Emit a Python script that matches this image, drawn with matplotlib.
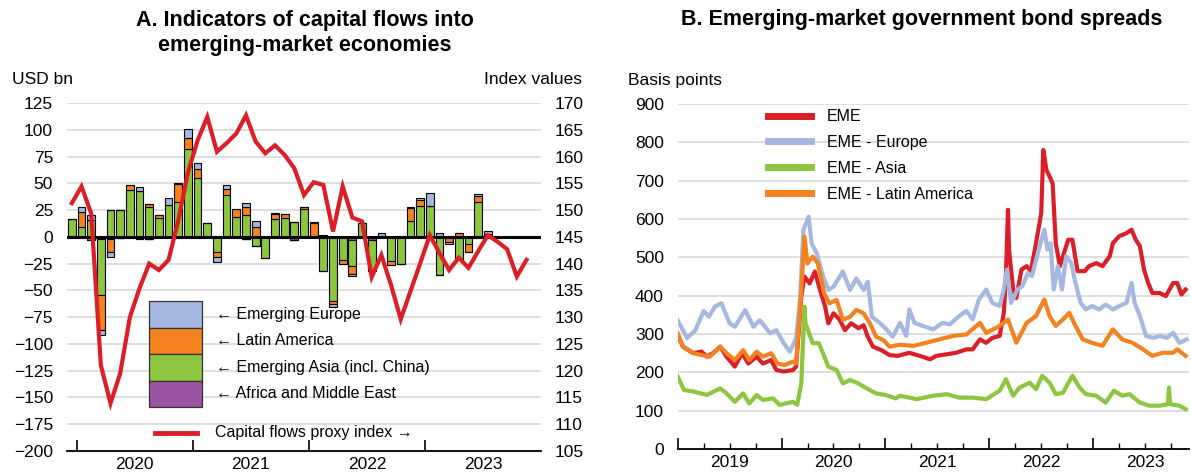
import matplotlib
matplotlib.use("Agg")
import matplotlib.pyplot as plt
import numpy as np
import pandas as pd
from matplotlib.patches import Rectangle
from matplotlib.ticker import FixedLocator, FixedFormatter, NullFormatter

plt.rcParams["font.family"] = ["Liberation Sans", "DejaVu Sans"]

RED = "#dc1f26"
BLUE = "#a5b8e1"
GREEN = "#8cc63f"
ORANGE = "#f58220"
PURPLE = "#9c55a3"
GRID = "#d9d9d9"

# ---- panel A: monthly flows by region, USD bn (Dec 2019 - Jul 2023)
flow_months = pd.period_range("2019-12", "2023-07", freq="M")
africa_me = [0, 0, -1, -2, -2, -1, 0, 0, -2, 0, 0, 0, 0, 0, 0, 0, 0, 0, -2, 0, 0, 0,
             0, -3, 0, 0, 0, 0, 0, -3, 0, -3, 0, 0, 0, 0, 0, 0, 0, -1.5, 0, 0, 0, 0]
asia = [17, 9.5, 16, -52, 25, 25, 44, 42.5, 28, 18, 30, 33, 82.5, 54.5, 12.5, -14.5,
        39, 19, 20, -8.5, -19.5, 17, 18, 14, 26, 0.5, -32, -60, -22, -24, 12.5, -29,
        1, -23, -25, 15, 29, 29, -36, 0, -21, -7, 33, 1]
latam = [0, 14, -2, -33, -12.5, 0, 4.5, -2, 3, 2, 0, 16.5, 10, 9, 0, -4, 5.5, 7, 7.5,
         9, 0, 4.5, 3, 0, 2, 12.5, 0, -3, -3, -7.5, 0, 0, 0, -3, 0, 11.5, 5, 0, 1, -3,
         3.5, -7, 5, 2]
europe = [0, 4.5, 4, -5, -4.5, 0, -1.5, 4, 0, 0, 6, 1, 8, 5, 0, -5, 4, 0, 4, 5.5, 0, 1,
          -1.5, 0, 0, 1, 1.5, -2.5, 0, -2.5, 0, 0, 3, 0, 1, 1, 2, 11.5, 3, -2.5, 0, 0, 2, 2]

# capital flows proxy index (Dec 2019 - Nov 2023)
index_months = pd.period_range("2019-12", "2023-11", freq="M")
proxy_index = [151.3, 154.4, 149.4, 121, 113.9, 119.5, 130, 135.4, 140, 138.8, 140.7, 148,
               157, 163, 167.4, 160.9, 162.5, 164.3, 167.7, 162.8, 160.6, 162.1, 160.3, 157.8,
               152.8, 155.2, 154.7, 146, 154.4, 148.6, 147.9, 137.5, 141.6, 136, 129.6, 134.8,
               140, 145.3, 142, 138.8, 141.1, 139.2, 142.3, 145.3, 144.1, 142.7, 137.6, 140.7]

# ---- panel B: spreads, basis points (time in fractional years)
eme_t = [2019.00, 2019.05, 2019.15, 2019.23, 2019.28, 2019.34, 2019.41, 2019.47, 2019.55,
         2019.62, 2019.68, 2019.76, 2019.82, 2019.90, 2019.95, 2020.02, 2020.11, 2020.14,
         2020.19, 2020.22, 2020.27, 2020.32, 2020.37, 2020.42, 2020.45, 2020.50, 2020.56,
         2020.61, 2020.67, 2020.74, 2020.79, 2020.83, 2020.88, 2020.96, 2021.04, 2021.12,
         2021.23, 2021.33, 2021.43, 2021.49, 2021.59, 2021.68, 2021.78, 2021.84, 2021.91,
         2021.97, 2022.03, 2022.10, 2022.14, 2022.16, 2022.18, 2022.19, 2022.23, 2022.26,
         2022.31, 2022.36, 2022.40, 2022.45, 2022.50, 2022.52, 2022.55, 2022.58, 2022.61,
         2022.64, 2022.68, 2022.71, 2022.76, 2022.80, 2022.85, 2022.92, 2022.96, 2023.03,
         2023.09, 2023.16, 2023.19, 2023.25, 2023.32, 2023.37, 2023.41, 2023.45, 2023.49,
         2023.53, 2023.57, 2023.64, 2023.70, 2023.77, 2023.81, 2023.85, 2023.89]
eme_v = [297, 267, 250, 254, 241, 250, 267, 241, 215, 250, 223, 241, 223, 232, 206, 202,
         206, 215, 397, 450, 432, 463, 415, 371, 328, 354, 337, 310, 328, 315, 323, 293,
         267, 258, 245, 243, 251, 243, 234, 243, 247, 251, 260, 260, 286, 277, 290, 295,
         355, 451, 624, 520, 416, 394, 468, 477, 464, 537, 615, 780, 728, 711, 693, 537,
         477, 503, 546, 546, 464, 464, 477, 485, 477, 503, 537, 555, 563, 572, 546, 529,
         468, 433, 407, 407, 399, 433, 433, 403, 416]

europe_t = [2019.00, 2019.09, 2019.17, 2019.25, 2019.30, 2019.36, 2019.42, 2019.50, 2019.55,
            2019.65, 2019.73, 2019.79, 2019.89, 2019.95, 2020.02, 2020.08, 2020.14, 2020.18,
            2020.21, 2020.26, 2020.29, 2020.34, 2020.40, 2020.45, 2020.50, 2020.59, 2020.66,
            2020.72, 2020.79, 2020.83, 2020.87, 2020.95, 2021.00, 2021.07, 2021.14, 2021.20,
            2021.23, 2021.28, 2021.36, 2021.46, 2021.55, 2021.62, 2021.71, 2021.78, 2021.84,
            2021.90, 2021.97, 2022.03, 2022.10, 2022.14, 2022.17, 2022.21, 2022.27, 2022.32,
            2022.37, 2022.41, 2022.48, 2022.53, 2022.56, 2022.59, 2022.62, 2022.66, 2022.70,
            2022.74, 2022.79, 2022.83, 2022.88, 2022.93, 2022.99, 2023.06, 2023.12, 2023.19,
            2023.25, 2023.32, 2023.37, 2023.40, 2023.45, 2023.51, 2023.58, 2023.64, 2023.71,
            2023.77, 2023.83, 2023.90]
europe_v = [336, 289, 310, 360, 345, 372, 380, 328, 319, 362, 319, 336, 302, 310, 276, 254,
            289, 397, 571, 606, 536, 510, 450, 415, 423, 463, 415, 445, 415, 436, 345, 328,
            315, 293, 329, 295, 364, 329, 321, 312, 329, 325, 347, 360, 338, 390, 416, 381,
            373, 416, 468, 381, 416, 425, 459, 451, 524, 572, 520, 537, 416, 477, 416, 503,
            485, 433, 381, 364, 373, 364, 377, 364, 373, 381, 433, 381, 347, 295, 290, 295,
            290, 303, 277, 286]

asia_t = [2019.00, 2019.06, 2019.15, 2019.28, 2019.41, 2019.47, 2019.55, 2019.63, 2019.69,
          2019.76, 2019.82, 2019.92, 2019.98, 2020.11, 2020.15, 2020.19, 2020.22, 2020.23,
          2020.30, 2020.36, 2020.45, 2020.53, 2020.59, 2020.66, 2020.74, 2020.82, 2020.91,
          2021.00, 2021.10, 2021.14, 2021.30, 2021.46, 2021.59, 2021.71, 2021.84, 2021.97,
          2022.10, 2022.16, 2022.23, 2022.29, 2022.39, 2022.45, 2022.51, 2022.58, 2022.64,
          2022.71, 2022.80, 2022.87, 2022.93, 2023.03, 2023.12, 2023.20, 2023.28, 2023.35,
          2023.45, 2023.54, 2023.64, 2023.72, 2023.73, 2023.74, 2023.83, 2023.89]
asia_v = [189, 154, 150, 141, 158, 145, 123, 145, 119, 141, 128, 132, 115, 123, 115, 171,
          371, 328, 276, 276, 215, 206, 171, 180, 171, 158, 145, 141, 132, 139, 130, 139,
          143, 134, 134, 130, 152, 182, 139, 160, 173, 156, 191, 173, 143, 147, 191, 160,
          143, 139, 121, 152, 139, 143, 121, 113, 113, 117, 160, 117, 113, 104]

latam_t = [2019.00, 2019.05, 2019.15, 2019.23, 2019.31, 2019.41, 2019.47, 2019.55, 2019.63,
           2019.69, 2019.76, 2019.82, 2019.90, 2019.96, 2020.03, 2020.11, 2020.14, 2020.19,
           2020.22, 2020.25, 2020.30, 2020.35, 2020.41, 2020.46, 2020.53, 2020.59, 2020.66,
           2020.72, 2020.79, 2020.85, 2020.91, 2020.98, 2021.04, 2021.14, 2021.27, 2021.39,
           2021.52, 2021.65, 2021.78, 2021.91, 2021.97, 2022.10, 2022.18, 2022.26, 2022.36,
           2022.45, 2022.53, 2022.58, 2022.64, 2022.71, 2022.77, 2022.83, 2022.90, 2022.99,
           2023.09, 2023.19, 2023.28, 2023.38, 2023.48, 2023.57, 2023.67, 2023.77, 2023.81,
           2023.89]
latam_v = [302, 267, 250, 245, 241, 267, 250, 232, 258, 232, 254, 241, 250, 223, 219, 228,
           223, 415, 554, 484, 502, 484, 406, 380, 389, 337, 345, 363, 354, 328, 293, 284,
           267, 272, 269, 277, 286, 295, 299, 329, 303, 321, 338, 277, 329, 347, 390, 347,
           321, 338, 355, 321, 286, 277, 269, 312, 286, 277, 260, 243, 251, 251, 260, 243]


def month_pos(months):
    return np.array([m.year + (m.month - 0.5) / 12 for m in months])


fig = plt.figure(figsize=(11.91, 4.72), dpi=100)

# ================= panel A =================
axA = fig.add_axes([67 / 1191, 21 / 472, 474 / 1191, 348 / 472])
xb = month_pos(flow_months)
stack = [(africa_me, PURPLE), (asia, GREEN), (latam, ORANGE), (europe, BLUE)]
pos_base = np.zeros(len(xb))
neg_base = np.zeros(len(xb))
for vals, col in stack:
    v = np.array(vals, dtype=float)
    p = np.where(v > 0, v, 0)
    n = np.where(v < 0, v, 0)
    axA.bar(xb, p, width=0.8 / 12, bottom=pos_base, color=col, edgecolor="black",
            linewidth=0.8, zorder=2)
    axA.bar(xb, n, width=0.8 / 12, bottom=neg_base, color=col, edgecolor="black",
            linewidth=0.8, zorder=2)
    pos_base += p
    neg_base += n

axA.axhline(0, color="black", linewidth=2.2, zorder=3)
axA.set_xlim(2019 + 11 / 12, 2024)
axA.set_ylim(-200, 125)
axA.set_yticks(np.arange(-200, 126, 25))
axA.grid(axis="y", color=GRID, linewidth=1.2, zorder=0)
axA.set_axisbelow(True)
for s in ["top", "left", "right"]:
    axA.spines[s].set_visible(False)
axA.spines["bottom"].set_linewidth(1.3)
axA.tick_params(axis="y", length=0, labelsize=12.5, pad=10)
axA.xaxis.set_major_locator(FixedLocator([2020, 2021, 2022, 2023]))
axA.xaxis.set_major_formatter(NullFormatter())
axA.xaxis.set_minor_locator(FixedLocator([2020.5, 2021.5, 2022.5, 2023.5]))
axA.xaxis.set_minor_formatter(FixedFormatter(["2020", "2021", "2022", "2023"]))
axA.tick_params(axis="x", which="major", direction="in", length=8, width=1.2)
axA.tick_params(axis="x", which="minor", length=0, labelsize=12.5, pad=4)

axA2 = axA.twinx()
axA2.plot(month_pos(index_months), proxy_index, color=RED, linewidth=3, zorder=4,
          solid_joinstyle="miter")
axA2.set_ylim(105, 170)
axA2.set_yticks(np.arange(105, 171, 5))
for s in ["top", "left", "right", "bottom"]:
    axA2.spines[s].set_visible(False)
axA2.tick_params(axis="y", length=0, labelsize=12.5, pad=10)

# legend drawn as a stacked key
key = [(BLUE, "Emerging Europe"), (ORANGE, "Latin America"),
       (GREEN, "Emerging Asia (incl. China)"), (PURPLE, "Africa and Middle East")]
kh = 0.0759
for i, (col, lab) in enumerate(key):
    y0 = 0.1264 + (3 - i) * kh
    axA.add_patch(Rectangle((0.173, y0), 0.112, kh, transform=axA.transAxes,
                            facecolor=col, edgecolor="#333333", linewidth=0.9, zorder=5))
    axA.text(0.314, y0 + kh / 2, "\u2190 " + lab, transform=axA.transAxes,
             fontsize=11.5, va="center", ha="left", zorder=5)
axA.plot([0.186, 0.274], [0.052, 0.052], transform=axA.transAxes, color=RED,
         linewidth=3.5, zorder=5)
axA.text(0.312, 0.052, "Capital flows proxy index \u2192", transform=axA.transAxes,
         fontsize=11.5, va="center", ha="left", zorder=5)

fig.text(305 / 1191, 1 - 33 / 472, "A. Indicators of capital flows into\nemerging-market economies",
         ha="center", va="center", fontsize=15.5, fontweight="bold", linespacing=1.2)
fig.text(12 / 1191, 1 - 80 / 472, "USD bn", ha="left", va="center", fontsize=12.5)
fig.text(582 / 1191, 1 - 80 / 472, "Index values", ha="right", va="center", fontsize=12.5)

# ================= panel B =================
axB = fig.add_axes([677.7 / 1191, 23 / 472, 511 / 1191, 345 / 472])
series = [(eme_t, eme_v, RED, "EME"), (europe_t, europe_v, BLUE, "EME - Europe"),
          (asia_t, asia_v, GREEN, "EME - Asia"), (latam_t, latam_v, ORANGE, "EME - Latin America")]
handles = []
for t, v, col, lab in series:
    ln, = axB.plot(t, v, color=col, linewidth=3, label=lab, zorder=3)
    handles.append(ln)
axB.set_xlim(2019, 2023.92)
axB.set_ylim(0, 900)
axB.set_yticks(np.arange(0, 901, 100))
axB.grid(axis="y", color=GRID, linewidth=1.2, zorder=0)
axB.set_axisbelow(True)
for s in ["top", "left", "right"]:
    axB.spines[s].set_visible(False)
axB.spines["bottom"].set_linewidth(1.3)
axB.tick_params(axis="y", length=0, labelsize=12.5, pad=10)
axB.xaxis.set_major_locator(FixedLocator([2019, 2020, 2021, 2022, 2023]))
axB.xaxis.set_major_formatter(NullFormatter())
qtr = [y + q for y in range(2019, 2024) for q in (0.25, 0.5, 0.75)]
axB.xaxis.set_minor_locator(FixedLocator(qtr))
axB.xaxis.set_minor_formatter(FixedFormatter([str(int(q)) if abs(q % 1 - 0.5) < 1e-6 else ""
                                              for q in qtr]))
axB.tick_params(axis="x", which="major", direction="in", length=8, width=1.2)
axB.tick_params(axis="x", which="minor", direction="in", length=4.5, width=1,
                labelsize=12.5, pad=4)
leg = axB.legend(handles=handles, loc="upper left", bbox_to_anchor=(0.177, 0.985),
                 frameon=False, fontsize=11.5, handlelength=2.7, handletextpad=1.0,
                 labelspacing=0.68, borderpad=0, borderaxespad=0)
for h in leg.legend_handles:
    h.set_linewidth(5)

fig.text(922 / 1191, 1 - 20 / 472, "B. Emerging-market government bond spreads",
         ha="center", va="center", fontsize=15.5, fontweight="bold")
fig.text(628 / 1191, 1 - 80 / 472, "Basis points", ha="left", va="center", fontsize=12.5)

fig.savefig("out.png", dpi=100)
